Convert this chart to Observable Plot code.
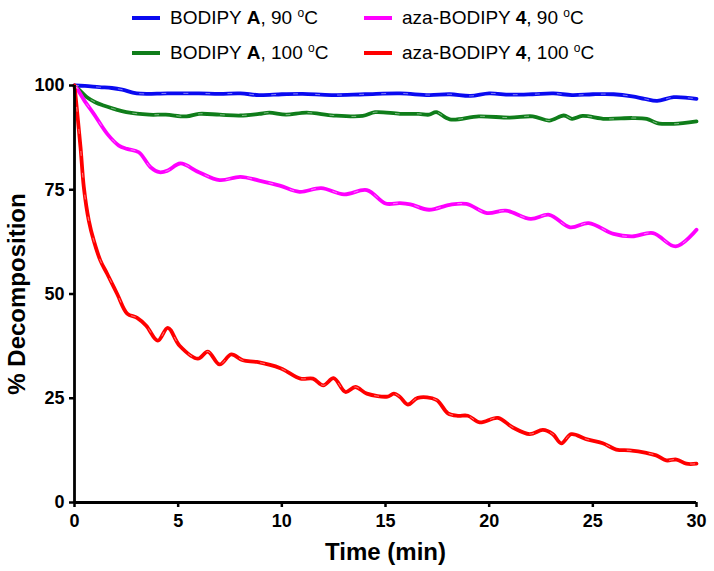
<!DOCTYPE html>
<html><head><meta charset="utf-8">
<script src="https://cdn.jsdelivr.net/npm/d3@7"></script>
<script src="https://cdn.jsdelivr.net/npm/@observablehq/plot@0.6"></script>
<style>
body{margin:0;background:#fff;font-family:"Liberation Sans",Arial,Helvetica,sans-serif}
#wrap{position:relative;width:714px;height:571px;overflow:hidden}
#wrap svg{position:absolute;left:0;top:0;font-family:"Liberation Sans",Arial,sans-serif}
#wrap svg text{font-weight:bold}
.leg{position:absolute;font-size:19px;white-space:nowrap;line-height:22px;color:#000}
.sw{position:absolute;height:4px;width:28px}
sup{font-size:12px;vertical-align:7px;line-height:0}
</style></head>
<body><div id="wrap"></div>
<script>
// Series (legend) names and colours
const seriesNames = ["BODIPY A, 90 ºC", "BODIPY A, 100 ºC", "aza-BODIPY 4, 90 ºC", "aza-BODIPY 4, 100 ºC"];
const seriesColors = ["#0a0af0", "#0f7d1a", "#ff00ff", "#ff0000"];

// BODIPY A, 90 °C
const tBlue = [0, 0.5, 1.2, 1.8, 2.3, 3.0, 4.5, 6, 7, 8, 8.9, 10, 11, 12.4, 14, 15.7, 17.1, 18.1, 19.1, 20, 21, 22.1, 23.1, 24, 25, 26, 26.9, 27.5, 28.1, 28.9, 30];
const vBlue = [100, 99.9, 99.6, 99.4, 99.0, 98.1, 98.1, 98.1, 98.0, 98.1, 97.7, 97.9, 98.0, 97.7, 97.9, 98.1, 97.7, 97.9, 97.5, 98.1, 97.8, 97.9, 98.1, 97.7, 97.9, 97.9, 97.4, 96.8, 96.3, 97.2, 96.8];

// BODIPY A, 100 °C
const tGreen = [0, 0.3, 0.6, 1.0, 1.4, 1.9, 2.5, 3.6, 4.4, 5.4, 6.0, 7.0, 8.0, 8.9, 9.4, 10.2, 11.2, 12.5, 13.9, 14.5, 15.7, 16.6, 17.1, 17.45, 18.1, 19.5, 21.0, 22.1, 22.9, 23.6, 24.0, 24.5, 25.6, 26.9, 27.6, 28.1, 28.9, 30];
const vGreen = [100, 98.6, 97.2, 96.0, 95.2, 94.4, 93.6, 93.0, 93.0, 92.6, 93.2, 93.0, 92.8, 93.2, 93.5, 93.0, 93.5, 92.8, 92.7, 93.6, 93.2, 93.2, 93.0, 93.6, 91.9, 92.6, 92.3, 92.6, 91.6, 92.8, 92.0, 92.7, 92.0, 92.2, 92.0, 91.0, 90.8, 91.4];

// aza-BODIPY 4, 90 °C
const tMagenta = [0, 0.13, 0.5, 0.93, 1.58, 2.14, 2.54, 3.1, 3.67, 4.1, 4.5, 5.1, 6.0, 7.0, 8.0, 8.9, 9.9, 10.85, 11.9, 13.0, 14.1, 15.0, 15.7, 16.2, 17.1, 18.1, 18.9, 19.9, 20.8, 22.0, 22.9, 23.9, 24.8, 26.0, 26.9, 27.9, 29.0, 30.0];
const vMagenta = [100, 99.2, 96.2, 93.2, 88.4, 85.6, 84.8, 84.0, 80.4, 79.2, 79.6, 81.3, 79.2, 77.3, 78.1, 77.2, 76.0, 74.5, 75.4, 73.9, 74.9, 71.7, 71.8, 71.5, 70.2, 71.4, 71.6, 69.4, 70.0, 68.0, 69.0, 66.0, 67.0, 64.4, 63.8, 64.6, 61.4, 65.4];

// aza-BODIPY 4, 100 °C
const tRed = [0, 0.29, 0.45, 0.69, 0.93, 1.25, 1.58, 2.06, 2.54, 3.02, 3.46, 4.02, 4.5, 5.07, 5.95, 6.43, 7.0, 7.56, 8.12, 8.8, 9.93, 10.9, 11.5, 12.0, 12.5, 13.07, 13.55, 14.1, 15.1, 15.4, 15.7, 16.08, 16.56, 17.45, 18.01, 18.49, 18.97, 19.54, 20.42, 21.14, 21.95, 22.59, 23.07, 23.48, 23.96, 24.68, 25.48, 26.13, 26.77, 27.58, 28.06, 28.54, 29.03, 29.51, 30];
const vRed = [100, 85.2, 75.6, 67.6, 62.8, 58.0, 54.8, 50.0, 45.3, 44.3, 42.4, 38.8, 41.9, 37.6, 34.5, 36.2, 33.1, 35.5, 34.1, 33.7, 32.2, 29.7, 29.7, 28.1, 29.8, 26.5, 27.7, 26.1, 25.4, 26.1, 25.3, 23.5, 25.1, 24.6, 21.4, 20.8, 20.8, 19.2, 20.3, 18.0, 16.4, 17.4, 16.4, 14.2, 16.4, 15.2, 14.2, 12.7, 12.5, 11.9, 11.3, 10.1, 10.3, 9.3, 9.3];

const xTicks = [0, 5, 10, 15, 20, 25, 30];
const yTicks = [0, 25, 50, 75, 100];

const allT = [tBlue, tGreen, tMagenta, tRed];
const allV = [vBlue, vGreen, vMagenta, vRed];
const rows = [];
allT.forEach((ts, i) => ts.forEach((t, j) => rows.push({t, v: allV[i][j], s: seriesNames[i]})));

const chart = Plot.plot({
  width: 714, height: 571,
  marginLeft: 74, marginRight: 18, marginTop: 85, marginBottom: 69,
  style: {fontFamily: '"Liberation Sans", Arial, sans-serif', background: "#fff"},
  x: {domain: [0, 30]},
  y: {domain: [0, 100]},
  color: {domain: seriesNames, range: seriesColors},
  marks: [
    Plot.lineY(rows, {x: "t", y: "v", z: "s", stroke: "s", strokeWidth: 3.8, curve: "catmull-rom"}),
    Plot.lineY(rows, {x: "t", y: "v", z: "s", stroke: "#fff", strokeWidth: 0.8, strokeOpacity: 0.6, strokeDasharray: "4,18", curve: "catmull-rom"}),
    Plot.ruleX([0], {stroke: "#000", strokeWidth: 2.8}),
    Plot.ruleY([0], {stroke: "#000", strokeWidth: 2.8}),
    Plot.axisX({ticks: xTicks, tickSize: 5, tickPadding: 7, strokeWidth: 2.5, fontSize: 18, label: null, tickFormat: d => String(d)}),
    Plot.axisY({ticks: yTicks, tickSize: 5, tickPadding: 5, strokeWidth: 2.5, fontSize: 18, label: null, tickFormat: d => String(d)}),
    Plot.axisX({ticks: [], label: "Time (min)", labelAnchor: "center", labelArrow: "none", labelOffset: 57, fontSize: 24}),
    Plot.axisY({ticks: [], label: "% Decomposition", labelAnchor: "center", labelArrow: "none", labelOffset: 67, fontSize: 24})
  ]
});
const wrap = document.getElementById("wrap");
wrap.appendChild(chart);

// Legend (HTML above the SVG's top margin)
const legendPos = [[132, 170, 18], [132, 170, 53], [364, 402, 18], [364, 402, 53]];
seriesNames.forEach((name, i) => {
  const [lx, tx, cy] = legendPos[i];
  const sw = document.createElement("div");
  sw.className = "sw";
  sw.style.left = lx + "px"; sw.style.top = (cy - 2) + "px"; sw.style.background = seriesColors[i];
  wrap.appendChild(sw);
  const lab = document.createElement("div");
  lab.className = "leg";
  lab.style.left = tx + "px"; lab.style.top = (cy - 11) + "px";
  const m = name.match(/^(.*?) (A|4), (\d+) ºC$/);
  lab.innerHTML = `${m[1]} <b>${m[2]}</b>, ${m[3]} <sup>o</sup>C`;
  wrap.appendChild(lab);
});
</script>
</body></html>
